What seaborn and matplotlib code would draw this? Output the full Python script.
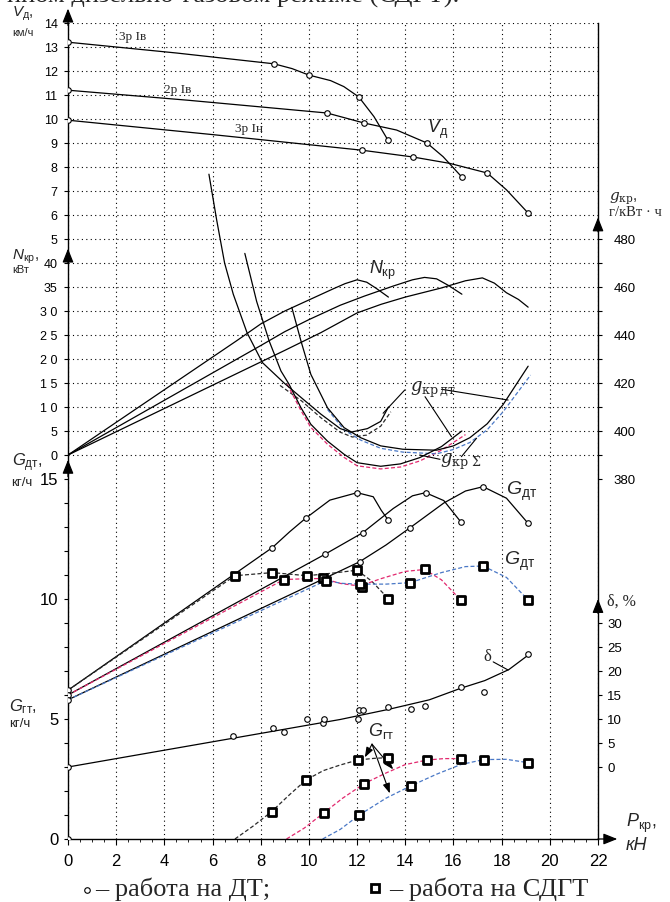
import matplotlib
matplotlib.use("Agg")
import matplotlib.pyplot as plt
from matplotlib.lines import Line2D
import seaborn as sns

# ---- V_d, km/h ----
p_3b = [0, 4.5, 8.55, 9.3, 10.0, 10.9, 11.45, 12.07, 12.7, 13.28]
v_3b = [13.2, 12.75, 12.3, 12.1, 11.83, 11.6, 11.35, 10.92, 10.1, 9.12]
p_3b_pts = [0, 8.55, 10.0, 12.07, 13.28]
v_3b_pts = [13.2, 12.3, 11.83, 10.92, 9.12]

p_2b = [0, 5, 10.75, 12.3, 13.64, 14.9, 15.57, 16.35]
v_2b = [11.2, 10.78, 10.25, 9.83, 9.54, 9.0, 8.43, 7.58]
p_2b_pts = [0, 10.75, 12.3, 14.9, 16.35]
v_2b_pts = [11.2, 10.25, 9.83, 9.0, 7.58]

p_3n = [0, 6, 12.2, 14.3, 15.85, 17.4, 18.2, 19.1]
v_3n = [9.95, 9.35, 8.7, 8.42, 8.15, 7.75, 7.05, 6.08]
p_3n_pts = [0, 12.2, 14.3, 17.4, 19.1]
v_3n_pts = [9.95, 8.7, 8.42, 7.75, 6.08]

# ---- N_kr, kW ----
p_n1 = [0, 7.0, 8.0, 9.0, 10.0, 11.0, 11.5, 12.0, 12.4, 12.8, 13.3]
n_1 = [0, 23.8, 27.3, 30.0, 32.3, 34.6, 35.7, 36.5, 36.0, 34.7, 32.9]
p_n2 = [0, 8.0, 9.0, 10.0, 11.3, 12.3, 13.5, 14.3, 14.8, 15.3, 15.8, 16.35]
n_2 = [0, 22.8, 25.7, 28.2, 31.2, 33.1, 35.2, 36.5, 37.0, 36.7, 35.3, 33.5]
p_n3 = [0, 9.0, 10.5, 12.0, 13.0, 14.0, 15.5, 16.5, 17.2, 17.7, 18.2, 18.7, 19.1]
n_3 = [0, 21.8, 25.5, 29.6, 31.4, 32.9, 34.8, 36.3, 36.9, 35.8, 33.8, 32.4, 30.8]

# ---- g_kr, g/kWh ----
p_ga = [5.85, 6.17, 6.5, 6.86, 7.43, 8.07, 8.97, 9.67, 10.5, 11.3, 11.74, 12.43, 12.98, 13.3]
g_a = [507, 488, 470, 457, 441, 428.5, 420, 414, 407, 401, 399.5, 401, 404, 410]
p_ga_s = [8.8, 9.7, 10.5, 11.3, 11.8, 12.4, 12.98, 13.4]
g_a_s = [419, 412.5, 405.5, 399.5, 397.5, 398.3, 402, 408]

p_gb = [7.34, 7.83, 8.35, 8.84, 9.18, 9.67, 10.08, 10.77, 11.46, 12.0, 12.98, 13.8, 14.6, 15.5, 16.35]
g_b = [474, 454, 437.5, 425, 419.4, 409.7, 402.8, 395.8, 390.3, 386.8, 385.3, 386.3, 388.9, 393.5, 400]
p_gb_s = [9.1, 9.67, 10.08, 10.77, 11.46, 12.0, 12.98, 13.8, 14.6, 15.5, 16.5]
g_b_s = [419.5, 408.5, 401.5, 394.5, 389, 385.5, 384.2, 385, 387.5, 392, 398.5]

p_gc = [9.29, 9.67, 10.08, 10.77, 11.46, 12.15, 12.98, 13.9, 15.3, 16.0, 16.68, 17.4, 18.06, 19.1]
g_c = [451.5, 437.5, 423.6, 409.7, 401.4, 397.2, 393.8, 392.4, 392.0, 393.8, 397.2, 403.0, 411.0, 427.0]
p_gc_s = [10.77, 11.46, 12.15, 12.98, 13.9, 15.3, 16.0, 16.68, 17.4, 18.06, 19.2]
g_c_s = [409, 400.5, 396.2, 392.8, 391.2, 390.5, 392.3, 395.2, 400.5, 408, 423.3]

# ---- G_dt, kg/h : diesel (solid, circles) ----
p_d1 = [0, 4, 8.48, 9.2, 9.86, 10.87, 12.0, 12.67, 13.0, 13.29]
gd_1 = [6.2, 9.0, 12.14, 12.8, 13.36, 14.12, 14.43, 14.26, 13.7, 13.29]
p_d1_pts = [0, 8.48, 9.86, 12.0, 13.29]
gd_1_pts = [6.2, 12.14, 13.36, 14.43, 13.29]

p_d2 = [0, 5, 10.66, 12.23, 13.5, 14.3, 14.84, 15.6, 16.3]
gd_2 = [6.0, 8.75, 11.86, 12.76, 13.77, 14.3, 14.43, 14.1, 13.22]
p_d2_pts = [0, 10.66, 12.23, 14.84, 16.3]
gd_2_pts = [6.0, 11.86, 12.76, 14.43, 13.22]

p_d3 = [0, 6, 12.1, 13.2, 14.2, 15.6, 16.5, 17.23, 18.2, 19.1]
gd_3 = [5.8, 8.65, 11.55, 12.25, 12.97, 14.0, 14.5, 14.68, 14.2, 13.15]
p_d3_pts = [0, 12.1, 14.2, 17.23, 19.1]
gd_3_pts = [5.8, 11.55, 12.97, 14.68, 13.15]

# ---- G_dt, kg/h : dual fuel (dashed, squares) ----
p_s1 = [0, 6.93, 8.48, 9.93, 11.0, 12.0, 12.6, 13.29]
gs_1 = [6.2, 10.97, 11.1, 10.97, 11.08, 11.2, 10.75, 10.02]
p_s1_pts = [6.93, 8.48, 9.93, 12.0, 13.29]
gs_1_pts = [10.97, 11.1, 10.97, 11.2, 10.02]

p_s2 = [0, 8.96, 10.0, 10.6, 11.3, 12.1, 13.0, 14.0, 14.8, 15.5, 16.3]
gs_2 = [6.0, 10.81, 10.85, 10.85, 10.65, 10.54, 10.85, 11.15, 11.23, 10.8, 9.96]
p_s2_pts = [8.96, 10.6, 12.2, 14.8, 16.3]
gs_2_pts = [10.81, 10.88, 10.52, 11.23, 9.96]

p_s3 = [0, 10.69, 11.4, 12.1, 13.2, 14.2, 15.5, 16.5, 17.23, 18.2, 19.1]
gs_3 = [5.8, 10.76, 10.65, 10.62, 10.62, 10.68, 11.1, 11.35, 11.375, 10.9, 9.96]
p_s3_pts = [10.69, 12.1, 14.2, 17.23, 19.1]
gs_3_pts = [10.76, 10.62, 10.68, 11.375, 9.96]

# ---- G_gt, kg/h (gas) ----
p_t1 = [6.93, 7.7, 8.45, 9.2, 9.88, 10.6, 11.29, 12.02, 12.7, 13.29]
gt_1 = [0, 0.55, 1.14, 1.85, 2.46, 2.85, 3.08, 3.29, 3.36, 3.39]
p_t1_pts = [8.45, 9.88, 12.02, 13.29]
gt_1_pts = [1.14, 2.46, 3.29, 3.39]

p_t2 = [9.07, 9.8, 10.62, 11.4, 12.3, 13.2, 14.0, 14.9, 15.6, 16.33]
gt_2 = [0, 0.45, 1.09, 1.7, 2.31, 2.75, 3.1, 3.29, 3.35, 3.35]
p_t2_pts = [10.62, 12.3, 14.9, 16.33]
gt_2_pts = [1.09, 2.31, 3.29, 3.35]

p_t3 = [10.57, 11.3, 12.09, 13.2, 14.22, 15.3, 16.3, 17.26, 18.2, 19.1]
gt_3 = [0, 0.4, 1.0, 1.7, 2.21, 2.7, 3.1, 3.31, 3.32, 3.18]
p_t3_pts = [12.09, 14.22, 17.26, 19.1]
gt_3_pts = [1.0, 2.21, 3.31, 3.18]

# ---- slip delta, % ----
p_sl = [0, 4, 8, 11.3, 13.3, 15.0, 16.3, 17.3, 18.3, 19.1]
slip = [0, 3.5, 7.0, 9.9, 12.0, 14.0, 16.4, 18.0, 20.3, 23.3]
p_sl_pts = [0, 6.86, 8.52, 8.98, 9.9, 10.57, 10.62, 12.02, 12.09, 12.23, 13.29, 14.22, 14.8, 16.33, 17.26, 19.1]
slip_pts = [0, 6.5, 8.2, 7.3, 9.9, 9.2, 9.9, 9.9, 11.9, 11.9, 12.6, 12.1, 12.8, 16.7, 15.7, 23.5]

PINK = "#e2286e"
BLUE = "#4a78c6"
DARK = "#2a2a2a"
DASH = (0, (3.2, 1.8))

sns.set_theme(style="ticks")
plt.rcParams["font.family"] = ["Liberation Sans", "DejaVu Sans"]
plt.rcParams["mathtext.fontset"] = "custom"
plt.rcParams["mathtext.rm"] = "Liberation Sans"
plt.rcParams["mathtext.it"] = "Liberation Sans:italic"

W, H = 670, 902


def solid(ax, x, y):
    sns.lineplot(x=x, y=y, ax=ax, color="black", linewidth=0.9,
                 estimator=None, sort=False)


def dashed(ax, x, y, color):
    sns.lineplot(x=x, y=y, ax=ax, color=color, linewidth=0.9, linestyle=DASH,
                 estimator=None, sort=False)


def circles(ax, x, y):
    sns.scatterplot(x=x, y=y, ax=ax, marker="o", s=16, color="white",
                    edgecolor="black", linewidth=0.8, zorder=5)


def squares(ax, x, y):
    sns.scatterplot(x=x, y=y, ax=ax, marker="s", s=26, color="white",
                    edgecolor="black", linewidth=2.0, zorder=6)


def ftext(px, py, s, **kw):
    fig.text(px / W, 1 - py / H, s, **kw)


def arrow(ax, tip, base):
    ax.annotate("", xy=tip, xytext=base, annotation_clip=False,
                arrowprops=dict(arrowstyle="-|>,head_length=0.7,head_width=0.28",
                                color="black", lw=0.9, shrinkA=0, shrinkB=0))


fig = plt.figure(figsize=(W / 100, H / 100), dpi=100)
ax = fig.add_axes([68 / W, (H - 839) / H, (598 - 68) / W, (839 - 23) / H])
ax_v = ax.twinx()
ax_n = ax.twinx()
ax_g = ax.twinx()
ax_d = ax.twinx()

# V_d
for xs, ys in [(p_3b, v_3b), (p_2b, v_2b), (p_3n, v_3n)]:
    solid(ax_v, xs, ys)
for xs, ys in [(p_3b_pts, v_3b_pts), (p_2b_pts, v_2b_pts), (p_3n_pts, v_3n_pts)]:
    circles(ax_v, xs, ys)

# N_kr
for xs, ys in [(p_n1, n_1), (p_n2, n_2), (p_n3, n_3)]:
    solid(ax_n, xs, ys)

# g_kr
dashed(ax_g, p_ga_s, g_a_s, DARK)
dashed(ax_g, p_gb_s, g_b_s, PINK)
dashed(ax_g, p_gc_s, g_c_s, BLUE)
for xs, ys in [(p_ga, g_a), (p_gb, g_b), (p_gc, g_c)]:
    solid(ax_g, xs, ys)

# G_dt
for xs, ys in [(p_d1, gd_1), (p_d2, gd_2), (p_d3, gd_3)]:
    solid(ax, xs, ys)
dashed(ax, p_s1, gs_1, DARK)
dashed(ax, p_s2, gs_2, PINK)
dashed(ax, p_s3, gs_3, BLUE)
for xs, ys in [(p_d1_pts, gd_1_pts), (p_d2_pts, gd_2_pts), (p_d3_pts, gd_3_pts)]:
    circles(ax, xs, ys)
for xs, ys in [(p_s1_pts, gs_1_pts), (p_s2_pts, gs_2_pts), (p_s3_pts, gs_3_pts)]:
    squares(ax, xs, ys)

# G_gt
dashed(ax, p_t1, gt_1, DARK)
dashed(ax, p_t2, gt_2, PINK)
dashed(ax, p_t3, gt_3, BLUE)
for xs, ys in [(p_t1_pts, gt_1_pts), (p_t2_pts, gt_2_pts), (p_t3_pts, gt_3_pts)]:
    squares(ax, xs, ys)
circles(ax, [0], [0])

# delta
solid(ax_d, p_sl, slip)
circles(ax_d, p_sl_pts, slip_pts)

# ---- scales ----
ax.set_xlim(0, 22)
ax.set_ylim(0, 34)
ax_v.set_ylim(-20, 14)
ax_n.set_ylim(-80, 90)
ax_g.set_ylim(230, 570)
ax_d.set_ylim(-15, 155)

ax.set_xticks(range(0, 23, 2))
ax.set_xticks([i / 2 for i in range(0, 45)], minor=True)
ax.set_yticks(range(0, 16))
ax.set_yticklabels([str(i) if i % 5 == 0 else "" for i in range(0, 16)])
ax.set_yticks(range(0, 35), minor=True)
ax.tick_params(axis="x", which="major", direction="out", length=4, width=0.8,
               labelsize=12, pad=7, colors="black")
ax.tick_params(axis="x", which="minor", direction="out", length=2.5, width=0.7)
ax.tick_params(axis="y", which="major", left=True, right=False, direction="out",
               length=3, width=0.8, labelsize=12, pad=4, colors="black")
ax.tick_params(axis="y", which="minor", length=0)
ax.grid(which="minor", axis="y", color="black", linewidth=0.8, linestyle=(0, (1, 3)))
ax.grid(which="major", axis="x", color="black", linewidth=0.8, linestyle=(0, (1, 3)))
ax.set_axisbelow(True)
ax.spines["top"].set_visible(False)
for s in ["left", "right", "bottom"]:
    ax.spines[s].set_color("black")
    ax.spines[s].set_linewidth(1.0)

ax_v.set_yticks(range(5, 15))
ax_n.set_yticks(range(0, 45, 5))
ax_n.set_yticklabels(["0", "5", "1 0", "1 5", "2 0", "2 5", "3 0", "35", "40"])
for a in (ax_v, ax_n):
    a.yaxis.set_ticks_position("left")
    a.tick_params(axis="y", left=True, right=False, labelleft=True, labelright=False,
                  direction="out", length=3, width=0.8, labelsize=9, pad=4.5,
                  colors="black")

ax_g.set_yticks(range(380, 490, 10))
ax_g.set_yticklabels([str(v) if v % 20 == 0 else "" for v in range(380, 490, 10)])
ax_g.tick_params(axis="y", right=True, labelright=True, direction="out", length=3,
                 width=0.8, labelsize=9.5, pad=8, colors="black")
ax_d.set_yticks(range(0, 35, 5))
ax_d.tick_params(axis="y", right=True, labelright=True, direction="out", length=3,
                 width=0.8, labelsize=9.5, pad=3.5, colors="black")

for a in (ax_v, ax_n, ax_g, ax_d):
    a.set_ylabel("")
    for s in a.spines.values():
        s.set_visible(False)
ax.set_xlabel("")
ax.set_ylabel("")

# axis arrows
arrow(ax, (0, 34.6), (0, 33.9))
arrow(ax, (0, 24.6), (0, 24.0))
arrow(ax, (0, 15.8), (0, 15.1))
arrow(ax, (22, 25.9), (22, 25.3))
arrow(ax, (22, 10.0), (22, 9.4))
arrow(ax, (22.8, 0), (22, 0))

# ---- curve labels ----
SERIF = "Liberation Serif"
ax_v.text(2.7, 13.42, "3р Iв", family=SERIF, fontsize=9.5, ha="center", va="center")
ax_v.text(4.55, 11.22, "2р Iв", family=SERIF, fontsize=9.5, ha="center", va="center")
ax_v.text(7.5, 9.6, "3р Iн", family=SERIF, fontsize=9.5, ha="center", va="center")
ax_v.text(14.9, 9.55, r"$V_{\mathrm{д}}$", fontsize=13, va="center")
ax_n.text(12.5, 38.5, r"$N_{\mathrm{кр}}$", fontsize=13, va="center")
ax_g.text(14.2, 417, r"$g_{\mathrm{кр\,дт}}$", math_fontfamily="dejavuserif",
          fontsize=13, va="center")
ax_g.text(15.45, 387, r"$g_{\mathrm{кр}\ \Sigma}$", math_fontfamily="dejavuserif",
          fontsize=13, va="center")
ax.text(18.2, 14.5, r"$G_{\mathrm{дт}}$", fontsize=14, va="center")
ax.text(18.1, 11.55, r"$G_{\mathrm{дт}}$", fontsize=14, va="center")
ax.text(12.45, 4.5, r"$G_{\mathrm{гт}}$", fontsize=13, va="center")
ax_d.text(17.4, 22.9, "δ", family=SERIF, fontsize=12, ha="center", va="center")

lead = dict(color="black", lw=0.8)
ax_g.plot([13.98, 13.08], [417.1, 407.4], **lead)
ax_g.plot([14.82, 15.92], [414.3, 397.6], **lead)
ax_g.plot([15.5, 18.27], [417.4, 412.9], **lead)
ax_g.plot([16.33, 16.96], [389.3, 397.0], **lead)
ax_g.plot([15.44, 14.6], [388.2, 390.0], **lead)
ax_d.plot([17.65, 18.27], [21.9, 20.2], **lead)
for tip in [(12.32, 3.4), (13.5, 2.9), (13.36, 1.9)]:
    ax.annotate("", xy=tip, xytext=(12.62, 3.95),
                arrowprops=dict(arrowstyle="-|>,head_length=0.5,head_width=0.18",
                                color="black", lw=0.8, shrinkA=0, shrinkB=0))

# ---- axis titles ----
ftext(12, 14, r"$V_{\mathrm{д}}$,", fontsize=11, va="center")
ftext(12, 33, "км/ч", fontsize=8, va="center")
ftext(12, 257, r"$N_{\mathrm{кр}}$,", fontsize=11, va="center")
ftext(12, 270, "кВт", fontsize=8, va="center")
ftext(12, 463, r"$G_{\mathrm{дт}}$,", fontsize=12, va="center")
ftext(11, 483, "кг/ч", fontsize=9.5, va="center")
ftext(9, 707, r"$G_{\mathrm{гт}}$,", fontsize=12, va="center")
ftext(9, 724, "кг/ч", fontsize=9.5, va="center")
ftext(609, 199, r"$g_{\mathrm{кр}}$,", math_fontfamily="dejavuserif", fontsize=11,
      va="center")
ftext(609, 212, "г/кВт · ч", family=SERIF, fontsize=10.5, va="center")
ftext(607, 602, "δ, %", family=SERIF, fontsize=11.5, va="center")
ftext(626, 823, r"$P_{\mathrm{кр}}$,", fontsize=13, va="center")
ftext(626, 846, "кН", fontsize=13, style="italic", va="center")

# ---- bottom legend and cut title ----
fig.add_artist(Line2D([87 / W], [1 - 890 / H], marker="o", markersize=4,
                      markerfacecolor="white", markeredgecolor="black",
                      markeredgewidth=0.8, transform=fig.transFigure))
ftext(95, 889, "– работа на ДТ;", family=SERIF, fontsize=19, va="center")
fig.add_artist(Line2D([375 / W], [1 - 888 / H], marker="s", markersize=6,
                      markerfacecolor="white", markeredgecolor="black",
                      markeredgewidth=2.0, transform=fig.transFigure))
ftext(389, 889, "– работа на СДГТ", family=SERIF, fontsize=19, va="center")
ftext(7, 3, "ином дизельно-газовом режиме (СДГТ).", family=SERIF, fontsize=19,
      va="baseline")

fig.savefig("out.png", dpi=100, facecolor="white")
